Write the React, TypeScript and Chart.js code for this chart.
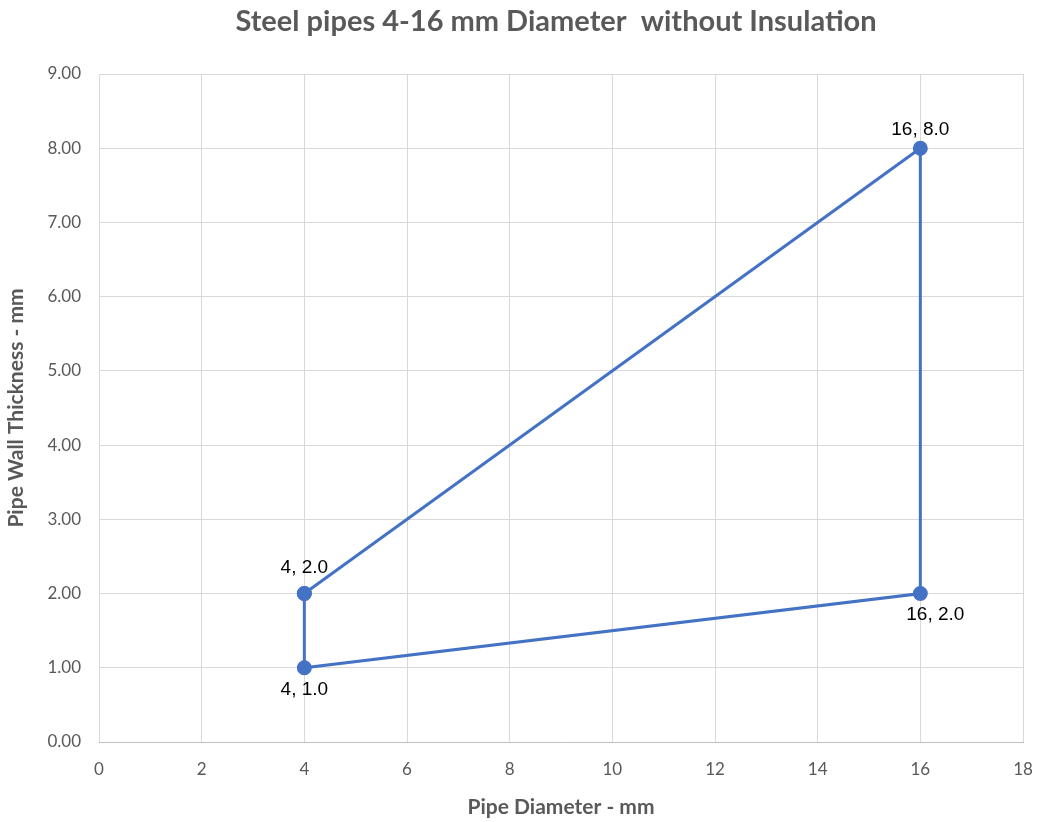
import React, { useEffect, useRef } from "react";
import { Chart, registerables } from "chart.js";

Chart.register(...registerables);

const TITLE = "Steel pipes 4-16 mm Diameter  without Insulation";
const X_TITLE = "Pipe Diameter - mm";
const Y_TITLE = "Pipe Wall Thickness - mm";
const diameters = [4, 16, 16, 4, 4];
const thicknesses = [2.0, 8.0, 2.0, 1.0, 2.0];
const labelPlacement = ["above", "above", "below", "below", "none"];

const BLUE = "#4472C4";
const GREY = "#595959";
const FONT = "Lato, 'Open Sans', sans-serif";

const labelPlugin = {
  id: "pointLabels",
  afterDatasetsDraw(chart: any) {
    const ctx = chart.ctx;
    const meta = chart.getDatasetMeta(0);
    ctx.save();
    ctx.font = "19px 'Liberation Sans', Arial, sans-serif";
    ctx.fillStyle = "#000000";
    ctx.textAlign = "center";
    meta.data.forEach((pt: any, i: number) => {
      const place = labelPlacement[i];
      if (place === "none") return;
      const txt = `${diameters[i]}, ${thicknesses[i].toFixed(1)}`;
      if (place === "above") {
        ctx.textBaseline = "bottom";
        ctx.fillText(txt, pt.x, pt.y - (diameters[i] === 4 ? 16 : 9));
      } else {
        ctx.textBaseline = "top";
        ctx.fillText(txt, pt.x + (diameters[i] === 16 ? 15 : 0), pt.y + 12);
      }
    });
    ctx.restore();
  },
};

const titlePlugin = {
  id: "topTitle",
  afterDraw(chart: any) {
    const ctx = chart.ctx;
    ctx.save();
    ctx.font = `bold 29px ${FONT}`;
    ctx.fillStyle = GREY;
    ctx.textAlign = "center";
    ctx.textBaseline = "middle";
    ctx.fillText(TITLE, 556, 22);
    ctx.restore();
  },
};

export default function App() {
  const ref = useRef<HTMLCanvasElement>(null);
  useEffect(() => {
    document.body.style.margin = "0";
    const points = diameters.map((x, i) => ({ x, y: thicknesses[i] }));
    const chart = new Chart(ref.current!, {
      type: "scatter",
      data: {
        datasets: [
          {
            data: points,
            showLine: true,
            borderColor: BLUE,
            backgroundColor: BLUE,
            borderWidth: 3,
            pointRadius: 6,
            pointHoverRadius: 6,
            pointBackgroundColor: BLUE,
            pointBorderColor: BLUE,
          },
        ],
      },
      options: {
        animation: false,
        responsive: false,
        layout: { padding: { top: 74, right: 17, left: 0, bottom: 0 } },
        plugins: {
          legend: { display: false },
          tooltip: { enabled: false },
          title: { display: false },
        },
        scales: {
          x: {
            type: "linear",
            min: 0,
            max: 18,
            ticks: {
              stepSize: 2,
              color: GREY,
              font: { size: 17, family: FONT },
              padding: 17,
            },
            grid: { color: "#D9D9D9", drawTicks: false },
            border: { color: "#BFBFBF" },
            title: {
              display: true,
              text: X_TITLE,
              color: GREY,
              font: { size: 21, weight: "bold", family: FONT },
              padding: { top: 4, bottom: 2 },
            },
            afterFit: (s: any) => {
              s.height = 80;
              s.paddingLeft = 0;
              s.paddingRight = 0;
            },
          },
          y: {
            type: "linear",
            min: 0,
            max: 9,
            ticks: {
              stepSize: 1,
              color: GREY,
              font: { size: 17, family: FONT },
              padding: 18,
              callback: (v: any) => Number(v).toFixed(2),
            },
            grid: { color: "#D9D9D9", drawTicks: false },
            border: { display: false },
            title: {
              display: true,
              text: Y_TITLE,
              color: GREY,
              font: { size: 21, weight: "bold", family: FONT },
              padding: { top: 4, bottom: 4 },
            },
            afterFit: (s: any) => {
              s.width = 99;
              s.paddingTop = 0;
              s.paddingBottom = 0;
            },
          },
        },
      },
      plugins: [labelPlugin, titlePlugin],
    } as any);
    return () => chart.destroy();
  }, []);
  return (
    <div style={{ width: 1040, height: 822, background: "#fff" }}>
      <canvas ref={ref} width={1040} height={822} />
    </div>
  );
}
